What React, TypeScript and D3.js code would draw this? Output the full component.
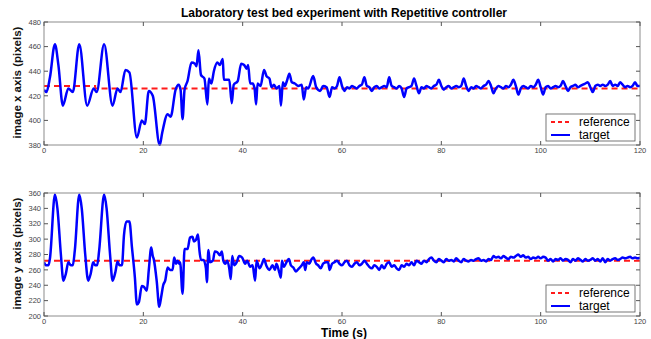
import React from "react";
import * as d3 from "d3";

const xTicks = [0, 20, 40, 60, 80, 100, 120];
const topYTicks = [380, 400, 420, 440, 460, 480];
const botYTicks = [200, 220, 240, 260, 280, 300, 320, 340, 360];

// reference (x axis): piecewise
const refXTime = [0, 10.3, 10.3, 120];
const refXValue = [428, 428, 426, 426];
const refYTime = [0, 120];
const refYValue = [272, 272];

// transient part of x target (irregular samples)
const xTime1 = [0, 0.5, 1.2, 2.2, 2.9, 3.8, 4.9, 5.8, 7.1, 8.7, 10.0, 10.6, 12.1, 13.8, 14.8, 15.4, 16.4, 17.2, 18.7, 19.7, 20.3, 21.1, 21.9, 23.3, 23.8, 24.9, 25.5, 26.5, 27.1, 27.5, 27.9, 28.3, 28.9, 29.7, 30.4, 30.7, 31.1, 31.6, 32.3, 32.9, 33.2, 33.7, 34.2, 34.9, 35.4, 36.0, 36.2, 37.3, 37.8, 38.2, 39.0, 39.7, 40.3, 40.8, 41.1, 41.5, 42.0, 42.4, 42.7, 43.0, 43.6, 44.3, 44.8, 45.4, 45.8, 46.3, 46.8, 47.4, 47.7, 48.1, 48.5, 48.9, 49.4, 49.9, 50.5, 51.2, 51.9, 52.3, 52.8, 53.2, 54.2, 54.8, 55.6, 56.2, 56.9];
const xValue1 = [425, 423, 435, 462, 445, 412, 426, 423, 462, 412, 426, 423, 462, 412, 426, 423, 441, 439, 386, 400, 397, 424, 420, 380, 390, 405, 403, 425, 429, 425, 401, 425, 432, 447, 446, 444, 457, 437, 434, 413, 434, 430, 440, 447, 445, 450, 433, 433, 414, 429, 432, 446, 445, 442, 445, 430, 430, 426, 413, 430, 428, 441, 436, 434, 427, 429, 426, 428, 412, 431, 428, 432, 438, 431, 430, 428, 429, 417, 427, 426, 436, 427, 424, 428, 427];
// steady part of x target, 0.5 s samples from 57.5 s
const xValue2 = [419, 427, 426, 428, 435, 428, 424, 427, 426, 428, 427, 426, 428, 429, 435, 428, 427, 424, 427, 428, 426, 427, 428, 427, 435, 428, 427, 426, 428, 426, 419, 426, 427, 428, 434, 428, 422, 427, 426, 428, 427, 426, 428, 429, 433, 428, 425, 427, 428, 426, 427, 428, 427, 428, 434, 428, 424, 427, 426, 428, 427, 426, 428, 429, 432, 428, 422, 426, 428, 427, 426, 428, 427, 429, 433, 428, 421, 426, 428, 427, 426, 428, 427, 429, 433, 427, 421, 427, 428, 426, 427, 428, 427, 428, 432, 428, 424, 427, 428, 429, 427, 428, 429, 430, 431, 427, 423, 428, 429, 428, 429, 428, 429, 432, 428, 429, 428, 431, 429, 427, 428, 427, 428, 431, 428, 428];

const yTime1 = [0, 0.4, 0.9, 1.2, 2.2, 2.7, 3.4, 3.9, 4.4, 4.9, 5.4, 5.8, 6.2, 7.1, 7.6, 8.3, 8.9, 9.4, 9.9, 10.3, 10.7, 11.1, 12.1, 12.6, 13.3, 13.8, 14.4, 14.8, 15.2, 15.7, 16.1, 16.6, 17.2, 17.7, 18.3, 18.7, 19.1, 19.7, 20.1, 20.7, 21.1, 21.6, 21.9, 22.1, 22.7, 23.2, 23.6, 24.0, 24.4, 24.9, 25.4, 25.9, 26.2, 26.6, 26.9, 27.2, 27.4, 27.9, 28.3, 28.9, 29.4, 29.9, 30.2, 30.6, 31.0, 31.3, 31.6, 32.1, 32.6, 32.8, 33.1, 33.4, 34.0, 34.4, 34.9, 35.4, 35.8, 36.1, 36.5, 36.9, 37.3, 37.6, 37.9, 38.3, 38.8, 39.3, 39.9, 40.5, 40.9, 41.5, 42.0, 42.5, 42.8, 43.4, 43.9, 44.3, 44.8, 45.4, 46.0, 46.5, 46.8, 47.4, 47.7, 47.9, 48.3, 48.9, 49.3, 49.7, 50.2, 50.7, 51.2, 51.9, 52.3, 52.6, 52.9, 53.4, 53.9, 54.2, 54.8, 55.2, 55.7, 56.2, 56.8, 57.2];
const yValue1 = [270, 266, 266, 275, 358, 340, 280, 246, 255, 270, 266, 266, 285, 358, 340, 280, 246, 255, 270, 266, 266, 285, 358, 340, 280, 246, 258, 271, 266, 266, 305, 323, 323, 290, 250, 215, 218, 239, 238, 233, 260, 289, 278, 274, 245, 212, 225, 240, 246, 263, 260, 260, 276, 268, 272, 268, 270, 229, 287, 287, 302, 303, 297, 299, 306, 285, 273, 273, 262, 244, 286, 270, 272, 284, 283, 279, 284, 272, 268, 272, 262, 248, 278, 266, 270, 278, 276, 268, 272, 264, 266, 246, 272, 262, 268, 274, 265, 260, 266, 260, 268, 256, 250, 272, 264, 271, 274, 266, 263, 258, 261, 266, 270, 260, 270, 268, 274, 276, 268, 266, 262, 268, 270, 270];
const yValue2 = [260, 268, 270, 272, 268, 266, 270, 272, 266, 264, 268, 270, 266, 268, 272, 268, 264, 262, 266, 264, 260, 266, 262, 268, 270, 264, 266, 262, 260, 266, 264, 268, 266, 270, 266, 272, 270, 268, 272, 270, 274, 276, 272, 270, 274, 272, 270, 274, 272, 273, 271, 275, 272, 270, 274, 272, 271, 273, 272, 274, 275, 272, 273, 271, 274, 273, 278, 276, 277, 275, 278, 276, 274, 277, 276, 278, 280, 277, 279, 276, 277, 274, 276, 275, 277, 275, 277, 276, 272, 274, 271, 274, 273, 275, 272, 274, 273, 270, 274, 272, 275, 273, 271, 274, 272, 273, 275, 272, 274, 271, 275, 270, 274, 272, 274, 275, 273, 274, 276, 275, 276, 277, 275, 276, 275, 276];

const steadyStart = 57.5;
const steadyStep = 0.5;

function buildSeries(t1: number[], v1: number[], v2: number[]) {
  const pts: [number, number][] = t1.map((t, i) => [t, v1[i]]);
  v2.forEach((v, i) => pts.push([steadyStart + i * steadyStep, v]));
  return pts;
}

const W = 651;
const H = 339;
const left = 44;
const right = 640;
const FONT = "Liberation Sans, Arial, sans-serif";

type PanelProps = {
  top: number;
  bottom: number;
  yTicks: number[];
  domain: [number, number];
  ylabel: string;
  target: [number, number][];
  refLine: [number, number][];
};

function Panel({ top, bottom, yTicks, domain, ylabel, target, refLine }: PanelProps) {
  const x = d3.scaleLinear().domain([0, 120]).range([left, right]);
  const y = d3.scaleLinear().domain(domain).range([bottom, top]);
  const line = d3
    .line<[number, number]>()
    .x((d) => x(d[0]))
    .y((d) => y(d[1]))
    .curve(d3.curveMonotoneX);
  const lineLin = d3
    .line<[number, number]>()
    .x((d) => x(d[0]))
    .y((d) => y(d[1]));
  const tl = 4;
  const tickColor = "#555";
  const lgX = 546;
  const lgW = 89;
  const lgH = 27;
  const lgY = bottom - 31;
  return (
    <g>
      <rect x={left} y={top} width={right - left} height={bottom - top} fill="#fff" />
      <defs>
        <clipPath id={`clip${top}`}>
          <rect x={left} y={top - 1} width={right - left} height={bottom - top + 2} />
        </clipPath>
      </defs>
      <g clipPath={`url(#clip${top})`}>
        <path d={lineLin(refLine) || ""} fill="none" stroke="#ff1a1a" strokeWidth={2} strokeDasharray="6,4" />
        <path d={line(target) || ""} fill="none" stroke="#0000ff" strokeWidth={2.5} strokeLinejoin="round" />
      </g>
      <rect x={left} y={top} width={right - left} height={bottom - top} fill="none" stroke="#8c8c8c" strokeWidth={1} />
      {xTicks.map((t) => (
        <g key={`x${t}`}>
          <line x1={x(t)} x2={x(t)} y1={bottom} y2={bottom - tl} stroke={tickColor} />
          <line x1={x(t)} x2={x(t)} y1={top} y2={top + tl} stroke={tickColor} />
          <text x={x(t)} y={bottom + 8} fontSize={7.5} textAnchor="middle" fill="#444" fontFamily={FONT}>
            {t}
          </text>
        </g>
      ))}
      {yTicks.map((t) => (
        <g key={`y${t}`}>
          <line x1={left} x2={left + tl} y1={y(t)} y2={y(t)} stroke={tickColor} />
          <line x1={right} x2={right - tl} y1={y(t)} y2={y(t)} stroke={tickColor} />
          <text x={left - 3} y={y(t) + 2.7} fontSize={7.5} textAnchor="end" fill="#444" fontFamily={FONT}>
            {t}
          </text>
        </g>
      ))}
      <text
        transform={`translate(${21},${(top + bottom) / 2 - 1}) rotate(-90)`}
        textAnchor="middle"
        fontSize={11.5}
        fontWeight="bold"
        fill="#111"
        fontFamily={FONT}
      >
        {ylabel}
      </text>
      <g>
        <rect x={lgX} y={lgY} width={lgW} height={lgH} fill="#fff" stroke="#555" strokeWidth={0.8} />
        <line x1={lgX + 5} x2={lgX + 24} y1={lgY + 8} y2={lgY + 8} stroke="#ff1a1a" strokeWidth={2} strokeDasharray="4,3" />
        <line x1={lgX + 5} x2={lgX + 24} y1={lgY + 21} y2={lgY + 21} stroke="#0000ff" strokeWidth={2} />
        <text x={lgX + 33} y={lgY + 12} fontSize={12} fill="#000" fontFamily={FONT}>
          reference
        </text>
        <text x={lgX + 33} y={lgY + 25} fontSize={12} fill="#000" fontFamily={FONT}>
          target
        </text>
      </g>
    </g>
  );
}

export default function App() {
  const xTarget = buildSeries(xTime1, xValue1, xValue2);
  const yTarget = buildSeries(yTime1, yValue1, yValue2);
  const xRef: [number, number][] = refXTime.map((t, i) => [t, refXValue[i]]);
  const yRef: [number, number][] = refYTime.map((t, i) => [t, refYValue[i]]);
  return (
    <svg width={W} height={H} style={{ position: "absolute", left: 0, top: 0, background: "#fff" }}>
      <rect width={W} height={H} fill="#fff" />
      <text x={344} y={17} textAnchor="middle" fontSize={12} fontWeight="bold" fontFamily={FONT}>
        Laboratory test bed experiment with Repetitive controller
      </text>
      <Panel top={22} bottom={145} yTicks={topYTicks} domain={[380, 480]} ylabel="image x axis (pixels)" target={xTarget} refLine={xRef} />
      <Panel top={193} bottom={316} yTicks={botYTicks} domain={[200, 360]} ylabel="image y axis (pixels)" target={yTarget} refLine={yRef} />
      <text x={344} y={337} textAnchor="middle" fontSize={12} fontWeight="bold" fontFamily={FONT}>
        Time (s)
      </text>
    </svg>
  );
}
